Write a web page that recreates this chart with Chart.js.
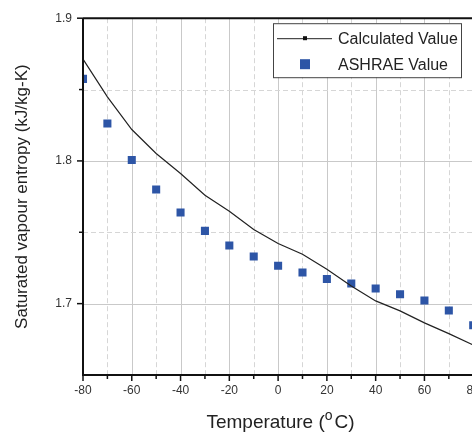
<!DOCTYPE html>
<html>
<head>
<meta charset="utf-8">
<script src="https://cdn.jsdelivr.net/npm/chart.js@4.4.0/dist/chart.umd.min.js"></script>
<style>
    html, body { margin: 0; padding: 0; background: #fff; overflow: hidden; }
    #wrap { width: 472px; height: 432px; overflow: hidden; }
</style>
</head>
<body>
<div id="wrap"><canvas id="chart" width="540" height="432" style="width:540px;height:432px"></canvas></div>
<script>
// --- data ---
const temps = [-80, -70, -60, -50, -40, -30, -20, -10, 0, 10, 20, 30, 40, 50, 60, 70, 80];
const calculatedValues = [1.8713, 1.8449, 1.8220, 1.8052, 1.7912, 1.7760, 1.7648, 1.7520, 1.7421, 1.7346,
    1.7241, 1.7124, 1.7019, 1.6949, 1.6865, 1.6790, 1.6710];
const ashraeValues = [1.8575, 1.8262, 1.8007, 1.7800, 1.7638, 1.7510, 1.7407, 1.7330, 1.7265, 1.7218,
    1.7173, 1.7141, 1.7106, 1.7066, 1.7022, 1.6952, 1.6849];

const xMajorTicks = [-80, -60, -40, -20, 0, 20, 40, 60, 80, 100];
const xMinorTicks = [-70, -50, -30, -10, 10, 30, 50, 70, 90];
const yMajorTicks = [1.7, 1.8, 1.9];
const yMinorTicks = [1.75, 1.85];

const FONT = '"Liberation Sans", Arial, sans-serif';
const BLUE = '#2d55a6';

// grid, axis frame, legend and x title
const framePlugin = {
    id: 'frame',
    beforeDatasetsDraw(chart) {
        const { ctx, chartArea: a, scales: { x, y } } = chart;
        ctx.save();
        ctx.lineWidth = 1;
        // solid major grid
        ctx.strokeStyle = '#c9c9c9';
        ctx.setLineDash([]);
        xMajorTicks.forEach(v => {
            const px = Math.round(x.getPixelForValue(v)) + 0.5;
            ctx.beginPath(); ctx.moveTo(px, a.top); ctx.lineTo(px, a.bottom); ctx.stroke();
        });
        yMajorTicks.forEach(v => {
            const py = Math.round(y.getPixelForValue(v)) + 0.5;
            ctx.beginPath(); ctx.moveTo(a.left, py); ctx.lineTo(a.right, py); ctx.stroke();
        });
        // dashed minor grid
        ctx.strokeStyle = '#d6d6d6';
        ctx.setLineDash([5, 3]);
        xMinorTicks.forEach(v => {
            const px = Math.round(x.getPixelForValue(v)) + 0.5;
            ctx.beginPath(); ctx.moveTo(px, a.top); ctx.lineTo(px, a.bottom); ctx.stroke();
        });
        yMinorTicks.forEach(v => {
            const py = Math.round(y.getPixelForValue(v)) + 0.5;
            ctx.beginPath(); ctx.moveTo(a.left, py); ctx.lineTo(a.right, py); ctx.stroke();
        });
        ctx.restore();
    },
    afterDatasetsDraw(chart) {
        const { ctx, chartArea: a, scales: { x, y } } = chart;
        ctx.save();
        // axis lines (left, bottom, top)
        ctx.strokeStyle = '#111';
        ctx.lineWidth = 2;
        ctx.beginPath();
        ctx.moveTo(a.left, a.top); ctx.lineTo(a.left, a.bottom); ctx.lineTo(a.right, a.bottom);
        ctx.moveTo(a.left, a.top); ctx.lineTo(a.right, a.top);
        ctx.stroke();

        // tick marks
        ctx.lineWidth = 1.5;
        xMajorTicks.forEach(v => {
            const px = x.getPixelForValue(v);
            ctx.beginPath(); ctx.moveTo(px, a.bottom); ctx.lineTo(px, a.bottom + 6); ctx.stroke();
        });
        xMinorTicks.forEach(v => {
            const px = x.getPixelForValue(v);
            ctx.beginPath(); ctx.moveTo(px, a.bottom); ctx.lineTo(px, a.bottom + 4); ctx.stroke();
        });
        yMajorTicks.forEach(v => {
            const py = y.getPixelForValue(v);
            ctx.beginPath(); ctx.moveTo(a.left, py); ctx.lineTo(a.left - 6, py); ctx.stroke();
        });
        yMinorTicks.forEach(v => {
            const py = y.getPixelForValue(v);
            ctx.beginPath(); ctx.moveTo(a.left, py); ctx.lineTo(a.left - 4, py); ctx.stroke();
        });

        // legend box
        const lx = a.left + 190, ly = a.top + 5, lw = 188, lh = 54;
        ctx.fillStyle = '#fff';
        ctx.fillRect(lx, ly, lw, lh);
        ctx.strokeStyle = '#444';
        ctx.lineWidth = 1;
        ctx.strokeRect(lx + 0.5, ly + 0.5, lw, lh);

        const r1 = ly + 15, r2 = ly + 41;
        ctx.strokeStyle = '#222';
        ctx.beginPath(); ctx.moveTo(lx + 4, r1 + 0.5); ctx.lineTo(lx + 59, r1 + 0.5); ctx.stroke();
        ctx.fillStyle = '#111';
        ctx.fillRect(lx + 30, r1 - 2, 4, 4);
        ctx.fillStyle = BLUE;
        ctx.fillRect(lx + 27, r2 - 5, 10, 10);

        ctx.fillStyle = '#222';
        ctx.font = '16px ' + FONT;
        ctx.textBaseline = 'middle';
        ctx.textAlign = 'left';
        ctx.fillText(chart.data.datasets[0].label, lx + 65, r1 + 1);
        ctx.fillText(chart.data.datasets[1].label, lx + 65, r2 + 1);

        // x axis title with superscript o
        const big = '19px ' + FONT, small = '14px ' + FONT;
        const p1 = 'Temperature (', p2 = 'o', p3 = 'C)';
        ctx.font = big; const w1 = ctx.measureText(p1).width, w3 = ctx.measureText(p3).width;
        ctx.font = small; const w2 = ctx.measureText(p2).width;
        const total = w1 + w2 + w3 + 2;
        let tx = (a.left + 472) / 2 - total / 2 + 3;
        const base = 428;
        ctx.textBaseline = 'alphabetic';
        ctx.font = big; ctx.fillText(p1, tx, base); tx += w1;
        ctx.font = small; ctx.fillText(p2, tx, base - 8); tx += w2 + 2;
        ctx.font = big; ctx.fillText(p3, tx, base);
        ctx.restore();
    }
};

const chart = new Chart(document.getElementById('chart').getContext('2d'), {
    type: 'line',
    data: {
        labels: temps,
        datasets: [
            {
                label: 'Calculated Value',
                data: temps.map((t, i) => ({ x: t, y: calculatedValues[i] })),
                borderColor: '#222',
                borderWidth: 1.2,
                pointRadius: 0,
                tension: 0,
                fill: false
            },
            {
                label: 'ASHRAE Value',
                data: temps.map((t, i) => ({ x: t, y: ashraeValues[i] })),
                showLine: false,
                pointStyle: 'rect',
                pointRadius: 5.7,
                backgroundColor: BLUE,
                borderColor: BLUE,
                borderWidth: 0
            }
        ]
    },
    options: {
        responsive: false,
        animation: false,
        layout: { padding: { left: 0, right: 16, top: 18, bottom: 0 } },
        plugins: { legend: { display: false }, tooltip: { enabled: false } },
        scales: {
            x: {
                type: 'linear',
                min: -80,
                max: 100,
                grid: { display: false, drawTicks: false },
                border: { display: false },
                afterBuildTicks: s => { s.ticks = xMajorTicks.map(v => ({ value: v })); },
                afterFit: s => { s.height = 57; },
                ticks: {
                    padding: 8,
                    color: '#333',
                    font: { family: FONT, size: 12 },
                    maxRotation: 0,
                    callback: v => String(v)
                }
            },
            y: {
                min: 1.65,
                max: 1.9,
                grid: { display: false, drawTicks: false },
                border: { display: false },
                afterBuildTicks: s => { s.ticks = yMajorTicks.map(v => ({ value: v })); },
                afterFit: s => { s.width = 83; },
                ticks: {
                    padding: 11,
                    color: '#333',
                    font: { family: FONT, size: 12 },
                    callback: v => v.toFixed(1)
                },
                title: {
                    display: true,
                    text: 'Saturated vapour entropy (kJ/kg-K)',
                    color: '#222',
                    font: { family: FONT, size: 17 },
                    padding: { top: 12, bottom: 0 }
                }
            }
        }
    },
    plugins: [framePlugin]
});
</script>
</body>
</html>
